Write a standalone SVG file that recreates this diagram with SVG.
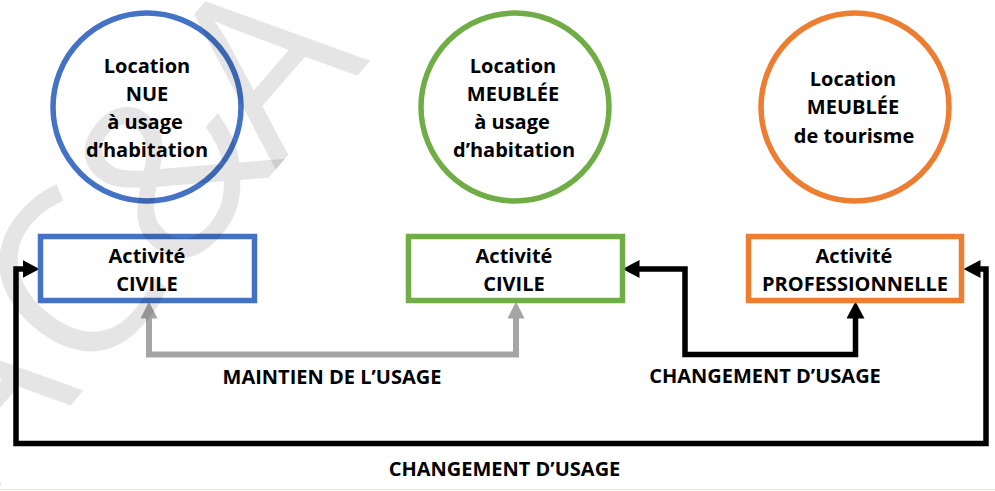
<svg xmlns="http://www.w3.org/2000/svg" width="995" height="491" viewBox="0 0 995 491">
  <style>
    .lbl { font-family: "Open Sans", "Liberation Sans", sans-serif; font-weight: 700; font-size: 20px; fill: #000; text-anchor: middle; }
    .ring { fill: #fff; stroke-width: 5.5; }
    .box { fill: #fff; stroke-width: 5.5; }
    .blue { stroke: #4472C4; }
    .green { stroke: #70AD47; }
    .orange { stroke: #ED7D31; }
    .keep { fill: none; stroke: #A5A5A5; stroke-width: 6; }
    .change { fill: none; stroke: #000; stroke-width: 5.5; stroke-linejoin: miter; }
    .wm { font-family: "Open Sans", "Liberation Sans", sans-serif; font-weight: 400; font-size: 228px; fill: #000; fill-opacity: 0.1; text-anchor: middle; }
  </style>
  <defs>
    <marker id="headGrey" viewBox="0 0 17 17" refX="0.5" refY="8.5" markerWidth="17" markerHeight="17" markerUnits="userSpaceOnUse" orient="auto-start-reverse">
      <path d="M0,0 L17,8.5 L0,17 z" fill="#A5A5A5"/>
    </marker>
    <marker id="headBlack" viewBox="0 0 17 18" refX="0.5" refY="9" markerWidth="17" markerHeight="18" markerUnits="userSpaceOnUse" orient="auto-start-reverse">
      <path d="M0,0 L17,9 L0,18 z" fill="#000"/>
    </marker>
  </defs>

  <rect width="995" height="491" fill="#fff"/>

  <!-- connectors -->
  <g id="connectors">
    <path class="keep" d="M149,318 V354.5 H516 V318" marker-start="url(#headGrey)" marker-end="url(#headGrey)"/>
    <path class="change" d="M639,269 H685 V354.5 H855.5 V318" marker-start="url(#headBlack)" marker-end="url(#headBlack)"/>
    <path class="change" d="M980,269 H986 V443.5 H16 V269 H23" marker-start="url(#headBlack)" marker-end="url(#headBlack)"/>
    <text class="lbl" x="332" y="384">MAINTIEN DE L’USAGE</text>
    <text class="lbl" x="765" y="383">CHANGEMENT D’USAGE</text>
    <text class="lbl" x="504.5" y="476">CHANGEMENT D’USAGE</text>
  </g>

  <!-- rental types -->
  <g id="location-nue">
    <circle class="ring blue" cx="147" cy="107" r="94"/>
    <text class="lbl" x="147" y="73">Location</text>
    <text class="lbl" x="147" y="101">NUE</text>
    <text class="lbl" x="145" y="129">à usage</text>
    <text class="lbl" x="147" y="157">d’habitation</text>
  </g>
  <g id="location-meublee">
    <circle class="ring green" cx="515" cy="107" r="94"/>
    <text class="lbl" x="513" y="73">Location</text>
    <text class="lbl" x="513" y="101">MEUBLÉE</text>
    <text class="lbl" x="512" y="129">à usage</text>
    <text class="lbl" x="514" y="157">d’habitation</text>
  </g>
  <g id="location-tourisme">
    <circle class="ring orange" cx="855" cy="107" r="94"/>
    <text class="lbl" x="853" y="86">Location</text>
    <text class="lbl" x="853" y="114">MEUBLÉE</text>
    <text class="lbl" x="854" y="143">de tourisme</text>
  </g>

  <!-- activity types -->
  <g id="activite-civile-nue">
    <rect class="box blue" x="40.5" y="236.5" width="214" height="64"/>
    <text class="lbl" x="147" y="263">Activité</text>
    <text class="lbl" x="147" y="291">CIVILE</text>
  </g>
  <g id="activite-civile-meublee">
    <rect class="box green" x="408.5" y="236.5" width="214" height="64"/>
    <text class="lbl" x="514" y="263">Activité</text>
    <text class="lbl" x="514" y="291">CIVILE</text>
  </g>
  <g id="activite-professionnelle">
    <rect class="box orange" x="748.5" y="236.5" width="213" height="64"/>
    <text class="lbl" x="854" y="263">Activité</text>
    <text class="lbl" x="855" y="291">PROFESSIONNELLE</text>
  </g>

  <!-- translucent watermark over the page, one glyph per tspan along a slanted baseline -->
  <g id="watermark">
    <text class="wm" transform="translate(323,115) rotate(-49)"><tspan x="-437" y="0">A</tspan><tspan x="-292" y="0">C</tspan><tspan x="-140" y="0">&amp;</tspan><tspan x="0" y="0">A</tspan></text>
  </g>

  <line x1="0" y1="489.5" x2="995" y2="489.5" stroke="#F4DEDE" stroke-width="1"/>
</svg>
